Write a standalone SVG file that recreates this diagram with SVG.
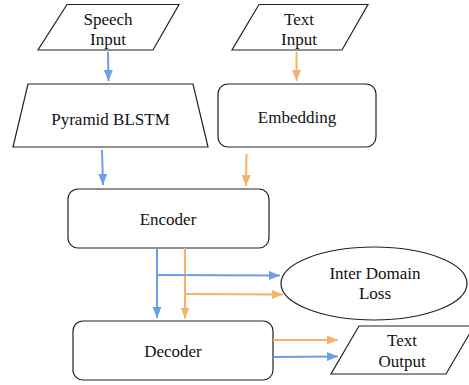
<svg xmlns="http://www.w3.org/2000/svg" width="469" height="385" viewBox="0 0 469 385">
<defs>
<marker id="ab" markerUnits="userSpaceOnUse" markerWidth="12" markerHeight="10" refX="11" refY="4.5" orient="auto"><path d="M0,0 L11,4.5 L0,9 z" fill="#6d9eeb"/></marker>
<marker id="ao" markerUnits="userSpaceOnUse" markerWidth="12" markerHeight="10" refX="11" refY="4.5" orient="auto"><path d="M0,0 L11,4.5 L0,9 z" fill="#f6b26b"/></marker>
</defs>
<style>
.s{fill:#fff;stroke:#222;stroke-width:1.2}
.t{font-family:"Liberation Serif","Times New Roman",serif;font-size:17px;fill:#111;text-anchor:middle}
.b{stroke:#6d9eeb;stroke-width:2;fill:none}
.o{stroke:#f6b26b;stroke-width:2;fill:none}
</style>
<rect width="469" height="385" fill="#fff"/>
<g id="speech-input"><polygon class="s" points="67,4.5 179,4.5 153,50 38,50"/><text class="t" x="108" y="25">Speech</text><text class="t" x="108" y="44.5">Input</text></g>
<g id="text-input"><polygon class="s" points="259,4.5 368,4.5 342,50 232,50"/><text class="t" x="299" y="24.5">Text</text><text class="t" x="299" y="44.5">Input</text></g>
<g id="pyramid-blstm"><polygon class="s" points="28,84 193,84 208,147 13,147"/><text class="t" x="110.5" y="124.5">Pyramid BLSTM</text></g>
<g id="embedding"><rect class="s" x="218" y="84" width="158" height="63" rx="10"/><text class="t" x="297" y="122.5">Embedding</text></g>
<g id="encoder"><rect class="s" x="68" y="189" width="201" height="59" rx="10"/><text class="t" x="168" y="225">Encoder</text></g>
<g id="inter-domain-loss"><ellipse class="s" cx="374" cy="283.5" rx="93" ry="36.5"/><text class="t" x="375" y="279">Inter Domain</text><text class="t" x="375" y="299">Loss</text></g>
<g id="decoder"><rect class="s" x="73" y="321" width="200" height="59" rx="10"/><text class="t" x="173" y="357">Decoder</text></g>
<g id="text-output"><polygon class="s" points="359,326 474,326 446,374 331,374"/><text class="t" x="402" y="346">Text</text><text class="t" x="402" y="366.5">Output</text></g>
<g id="connectors">
<line class="b" x1="108" y1="52" x2="108.5" y2="81" marker-end="url(#ab)"/>
<line class="o" x1="296.5" y1="52" x2="296.5" y2="81" marker-end="url(#ao)"/>
<line class="b" x1="102" y1="150" x2="103" y2="185" marker-end="url(#ab)"/>
<line class="o" x1="246.5" y1="154" x2="246" y2="186" marker-end="url(#ao)"/>
<line class="b" x1="157" y1="248" x2="157" y2="318" marker-end="url(#ab)"/>
<line class="o" x1="185" y1="248" x2="185" y2="318.5" marker-end="url(#ao)"/>
<line class="b" x1="157" y1="275" x2="280" y2="275.5" marker-end="url(#ab)"/>
<line class="o" x1="185" y1="294" x2="283" y2="294.5" marker-end="url(#ao)"/>
<line class="o" x1="273" y1="340" x2="338" y2="340" marker-end="url(#ao)"/>
<line class="b" x1="273" y1="357" x2="338" y2="356.5" marker-end="url(#ab)"/>
</g>
</svg>
